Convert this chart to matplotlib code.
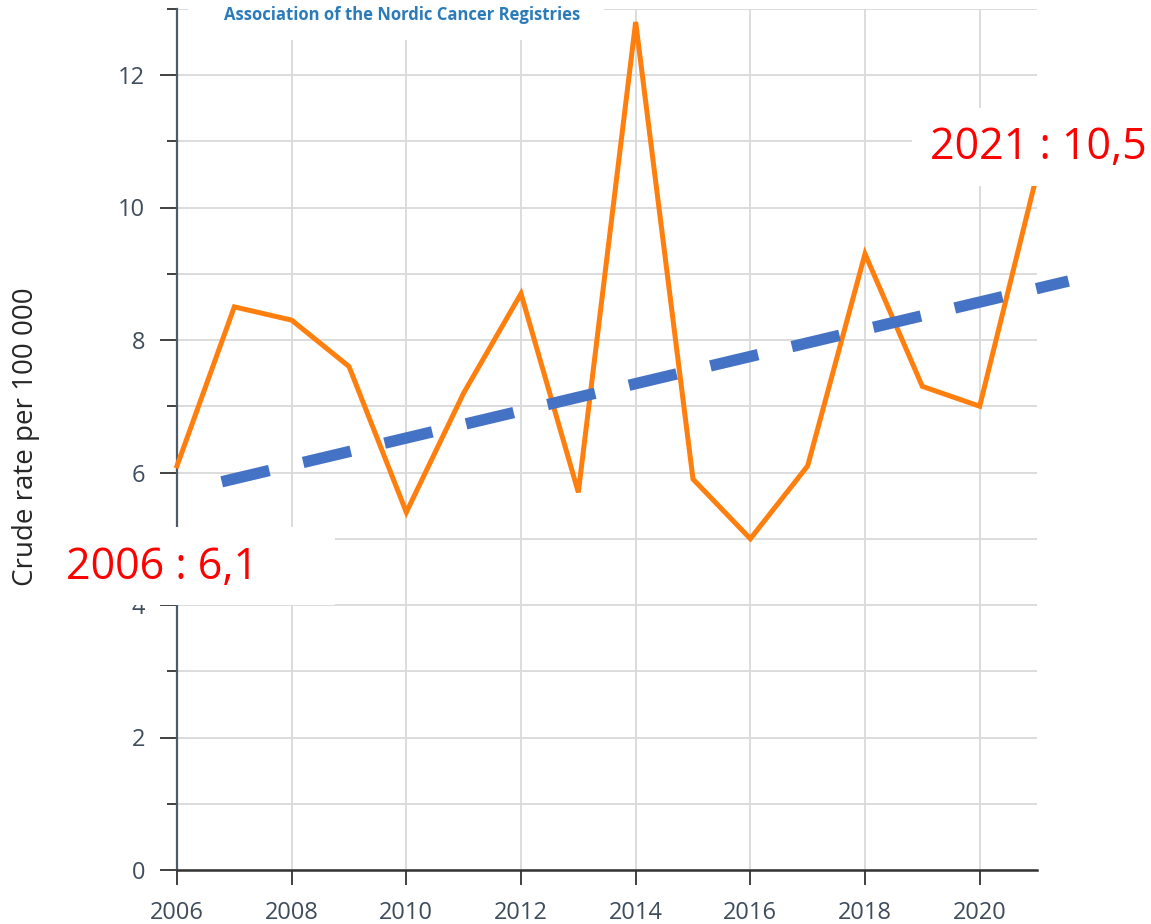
import matplotlib
matplotlib.use("Agg")
import matplotlib.pyplot as plt
from matplotlib.patches import Rectangle
from matplotlib.ticker import MultipleLocator

years = [2006, 2007, 2008, 2009, 2010, 2011, 2012, 2013,
         2014, 2015, 2016, 2017, 2018, 2019, 2020, 2021]
rates = [6.1, 8.5, 8.3, 7.6, 5.4, 7.2, 8.7, 5.7,
         12.8, 5.9, 5.0, 6.1, 9.3, 7.3, 7.0, 10.5]

# hand-drawn trend line (endpoints)
trend_years = [2006.78, 2021.55]
trend_rates = [5.86, 8.89]

x_ticks = [2006, 2008, 2010, 2012, 2014, 2016, 2018, 2020]
y_ticks = [0, 2, 4, 6, 8, 10, 12]

W, H = 1151, 924
LINE_COLOR  = "#ff7f0e"
TREND_COLOR = "#4472c4"
TICK_COLOR  = "#3e4c5c"
GRID_COLOR  = "#d9d9d9"


def px(x0, y0, x1, y1):
    # pixel box (top-left origin) -> figure fraction rect
    return (x0 / W, 1 - y1 / H, (x1 - x0) / W, (y1 - y0) / H)


fig = plt.figure(figsize=(W / 100, H / 100), dpi=100)
fig.patch.set_facecolor("white")
ax = fig.add_axes([177 / W, (H - 870) / H, 860 / W, (870 - 8.75) / H])

ax.plot(years, rates, color=LINE_COLOR, linewidth=3.6, zorder=3,
        solid_joinstyle="miter", clip_on=False)
ax.plot(trend_years, trend_rates, color=TREND_COLOR, linewidth=8.2,
        dashes=(4.3, 3.05), zorder=4, clip_on=False)

ax.set_xlim(2006, 2021)
ax.set_ylim(0, 13)
ax.set_xticks(x_ticks)
ax.set_yticks(y_ticks)
ax.yaxis.set_minor_locator(MultipleLocator(1))

ax.grid(axis="x", which="major", color=GRID_COLOR, linewidth=1.3, zorder=0)
ax.grid(axis="y", which="both", color=GRID_COLOR, linewidth=1.3, zorder=0)
ax.set_axisbelow(True)

for s in ["top", "right"]:
    ax.spines[s].set_visible(False)
ax.spines["left"].set_color("#4d5b69")
ax.spines["left"].set_linewidth(1.6)
ax.spines["bottom"].set_color("#333333")
ax.spines["bottom"].set_linewidth(1.8)

ax.tick_params(axis="y", which="major", length=12, width=1.3, color="#333333",
               labelsize=17, labelcolor=TICK_COLOR, pad=11)
ax.tick_params(axis="y", which="minor", length=7, width=1.3, color="#333333")
ax.tick_params(axis="x", which="major", length=11, width=1.3, color="#333333",
               labelsize=17, labelcolor=TICK_COLOR, pad=11)
for lab in ax.get_xticklabels() + ax.get_yticklabels():
    lab.set_fontfamily("Open Sans")

fig.text(26 / W, 1 - 437 / H, "Crude rate per 100 000", rotation=90,
         ha="center", va="center", fontsize=20, color="#262626",
         family="Open Sans")

# white cover boxes (title + the two callouts)
for rect in [px(188, 0, 604, 40), px(45, 527, 335, 605), px(912, 108, 1151, 186)]:
    fig.patches.append(Rectangle(rect[:2], rect[2], rect[3], transform=fig.transFigure,
                                 facecolor="white", edgecolor="none", zorder=5))

fig.text(402 / W, 1 - 15 / H, "Association of the Nordic Cancer Registries",
         ha="center", va="center", fontsize=12, fontweight="bold",
         color="#2b7bb9", family="Open Sans", zorder=6)
fig.text(66 / W, 1 - 568 / H, "2006 : 6,1", ha="left", va="center",
         fontsize=31, color="#ff0000", family="Open Sans", zorder=6)
fig.text(1147 / W, 1 - 148 / H, "2021 : 10,5", ha="right", va="center",
         fontsize=31, color="#ff0000", family="Open Sans", zorder=6)

fig.savefig("out.png", dpi=100, facecolor="white")
